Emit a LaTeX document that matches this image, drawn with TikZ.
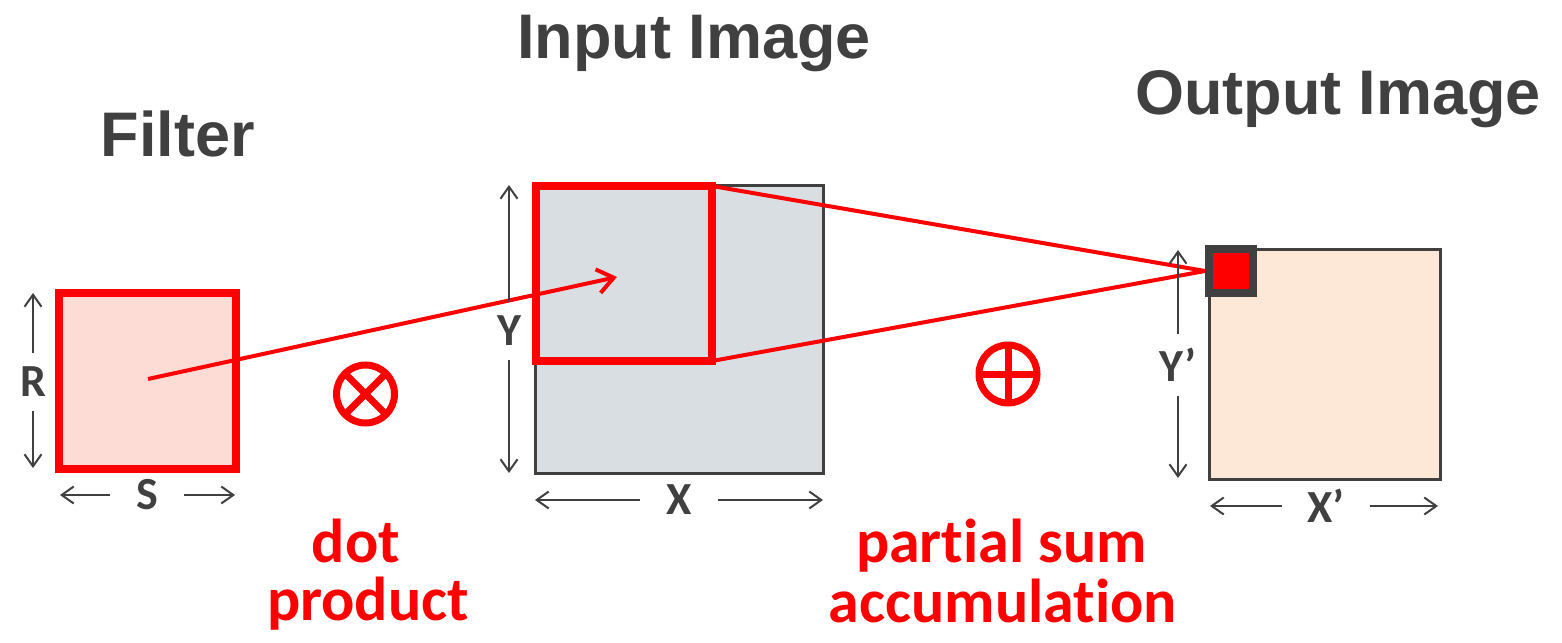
\documentclass[tikz,border=0pt]{standalone}
\usepackage{fontspec}
\setmainfont{Carlito}[Ligatures=NoCommon]
\newfontfamily\headfont{Liberation Sans}
\usetikzlibrary{arrows.meta}
\definecolor{dgray}{HTML}{404040}
\definecolor{fred}{HTML}{FF0000}
\definecolor{filterfill}{HTML}{FDDCD5}
\definecolor{inputfill}{HTML}{D9DEE2}
\definecolor{outputfill}{HTML}{FDE7D6}
\begin{document}
\begin{tikzpicture}[x=0.5pt,y=-0.5pt,
  heading/.style={font=\headfont\bfseries\fontsize{31.5}{36}\selectfont, text=dgray, anchor=base, inner sep=0},
  redlabel/.style={font=\bfseries\fontsize{31}{36}\selectfont, text=fred, anchor=base, inner sep=0},
  dimlabel/.style={font=\bfseries\fontsize{23}{26}\selectfont, text=dgray, inner xsep=13pt, inner ysep=7pt, outer sep=0},
  dim/.style={draw=dgray, line width=1pt, -{Straight Barb[length=6pt,width=8.5pt]}},
  redframe/.style={draw=fred, line width=4pt, rectangle, inner sep=0, outer sep=0},
  grayframe/.style={draw=dgray, line width=1.5pt, rectangle, inner sep=0, outer sep=0},
  redline/.style={draw=fred, line width=2pt},
  opsym/.style={circle, draw=fred, line width=3.5pt, minimum size=29pt, inner sep=0, outer sep=0},
  opbar/.style={draw=fred, line width=3.5pt}
]
\useasboundingbox (0,0) rectangle (1562,642);

% headings
\node[heading] (hfilter) at (178,156) {Filter};
\node[heading] (hinput) at (694,59) {Input Image};
\node[heading] (houtput) at (1338,114) {Output Image};

% boxes
\node[redframe, fill=filterfill, minimum width=88.5pt, minimum height=88pt] (filter) at (147.5,381) {};
\node[grayframe, fill=inputfill, minimum width=144pt, minimum height=144pt] (input) at (679,329) {};
\node[redframe, minimum width=88pt, minimum height=87.5pt] (window) at (624,273.5) {};
\node[grayframe, fill=outputfill, minimum width=115.5pt, minimum height=115pt] (output) at (1324.5,364) {};

% projection lines
\coordinate (pin) at (1205,271);
\draw[redline] (window.north east) -- (pin);
\draw[redline] (window.south east) -- (pin);
\node[draw=dgray, line width=4pt, fill=fred, minimum size=22pt, inner sep=0, outer sep=0] (pixel) at (1231,271) {};

% filter to window arrow
\coordinate (fc) at (148,379);
\coordinate (ic) at (617,277);
\draw[redline, -{Straight Barb[length=8pt,width=12pt]}] (fc) -- (ic);

% dimension labels
\node[dimlabel] (R) at (33,382) {R};
\coordinate (Rt) at (33,293); \coordinate (Rb) at (33,468);
\draw[dim] (R) -- (Rt); \draw[dim] (R) -- (Rb);

\node[dimlabel] (S) at (147,495) {S};
\coordinate (Sl) at (60,495); \coordinate (Sr) at (235,495);
\draw[dim] (S) -- (Sl); \draw[dim] (S) -- (Sr);

\node[dimlabel] (Y) at (509,331) {Y};
\coordinate (Yt) at (509,185); \coordinate (Yb) at (509,473);
\draw[dim] (Y) -- (Yt); \draw[dim] (Y) -- (Yb);

\node[dimlabel] (X) at (679,500) {X};
\coordinate (Xl) at (535,500); \coordinate (Xr) at (823,500);
\draw[dim] (X) -- (Xl); \draw[dim] (X) -- (Xr);

\node[dimlabel] (Yp) at (1178,365) {Y’};
\coordinate (Ypt) at (1178,250); \coordinate (Ypb) at (1178,478);
\draw[dim] (Yp) -- (Ypt); \draw[dim] (Yp) -- (Ypb);

\node[dimlabel] (Xp) at (1326,506) {X’};
\coordinate (Xpl) at (1210,506); \coordinate (Xpr) at (1438,506);
\draw[dim] (Xp) -- (Xpl); \draw[dim] (Xp) -- (Xpr);

% operators
\node[opsym] (mul) at (365.5,394) {};
\draw[opbar] (mul.45) -- (mul.225) (mul.135) -- (mul.315);
\node[opsym] (add) at (1008,374) {};
\draw[opbar] (add.north) -- (add.south) (add.west) -- (add.east);

% red labels
\node[redlabel] (dot) at (356,562) {dot};
\node[redlabel] (prod) at (368,620) {product};
\node[redlabel] (psum) at (1001.5,562) {partial sum};
\node[redlabel] (accum) at (1003,622) {accumulation};
\end{tikzpicture}
\end{document}
